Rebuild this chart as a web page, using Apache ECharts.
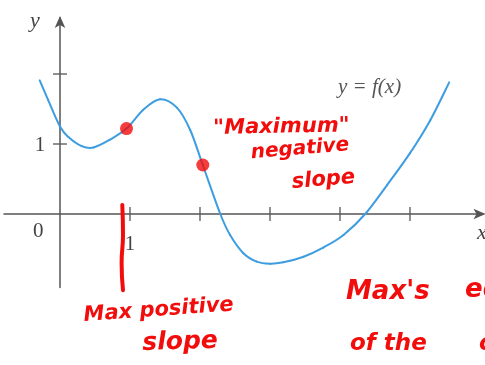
<!DOCTYPE html>
<html>
<head>
<meta charset="utf-8">
<script src="https://cdn.jsdelivr.net/npm/echarts@6/dist/echarts.min.js"></script>
<style>
  html, body { margin: 0; padding: 0; background: #fff; }
  #chart { width: 485px; height: 365px; }
</style>
</head>
<body>
<div id="chart"></div>
<script>
// y = f(x): points along the curve
const curveX = [-0.29, -0.17, 0, 0.12, 0.31, 0.48, 0.71, 0.95, 1.19, 1.43, 1.67, 1.86, 2.04, 2.29, 2.43, 2.62, 2.81, 3.0, 3.19, 3.48, 3.76, 4.05, 4.36, 4.67, 5.0, 5.29, 5.56];
const curveY = [1.91, 1.63, 1.25, 1.10, 0.97, 0.95, 1.06, 1.22, 1.49, 1.64, 1.52, 1.2, 0.70, 0.0, -0.30, -0.56, -0.68, -0.71, -0.69, -0.61, -0.48, -0.30, 0.0, 0.41, 0.87, 1.34, 1.88];

// highlighted points (max positive slope, "maximum" negative slope)
const dotX = [0.95, 2.04];
const dotY = [1.22, 0.70];

// hand-drawn marker under x = 1
const markX = [0.89, 0.90, 0.88, 0.90];
const markY = [0.13, -0.30, -0.70, -1.09];

// axis ticks and labels
const xTicks = [1, 2, 3, 4, 5];
const yTicks = [1, 2];
const xLabels = ['1'];
const xLabelAt = [1];
const yLabels = ['1'];
const yLabelAt = [1];

const axisColor = '#555';
const labelColor = '#444';
const serif = '"Liberation Serif", "DejaVu Serif", serif';
const red = '#f20d0d';
const hand = '"DejaVu Sans", sans-serif';

const chart = echarts.init(document.getElementById('chart'));

// cross-shaped ticks straddling the axis line
function tickSeries(values, dir) {
  return {
    type: 'custom',
    silent: true,
    clip: false,
    data: values.map(v => [v]),
    renderItem: function (params, api) {
      const v = api.value(0);
      const p = dir === 'x' ? api.coord([v, 0]) : api.coord([0, v]);
      const h = 7;
      const shape = dir === 'x'
        ? { x1: p[0], y1: p[1] - h, x2: p[0], y2: p[1] + h }
        : { x1: p[0] - h, y1: p[1], x2: p[0] + h, y2: p[1] };
      return { type: 'line', shape: shape, style: { stroke: axisColor, lineWidth: 1.3 } };
    }
  };
}

// tick labels placed relative to the axis line
function labelSeries(at, texts, dir) {
  return {
    type: 'custom',
    silent: true,
    clip: false,
    data: at.map((v, i) => [v, i]),
    renderItem: function (params, api) {
      const v = api.value(0);
      const t = texts[api.value(1)];
      const p = dir === 'x' ? api.coord([v, 0]) : api.coord([0, v]);
      return {
        type: 'text',
        x: dir === 'x' ? p[0] : p[0] - 20,
        y: dir === 'x' ? p[1] + 30 : p[1] + 1,
        style: { text: t, fill: labelColor, font: '21px ' + serif, align: 'center', verticalAlign: 'middle' }
      };
    }
  };
}

// smooth curve through the data points (Catmull-Rom spline in pixel space)
function curveSeries(xs, ys, color, width) {
  return {
    type: 'custom',
    silent: true,
    clip: false,
    data: [[xs[0], ys[0]]],
    z: 3,
    renderItem: function (params, api) {
      const pts = xs.map((x, i) => api.coord([x, ys[i]]));
      const n = pts.length;
      const children = [];
      for (let i = 0; i < n - 1; i++) {
        const p0 = pts[Math.max(i - 1, 0)];
        const p1 = pts[i];
        const p2 = pts[i + 1];
        const p3 = pts[Math.min(i + 2, n - 1)];
        children.push({
          type: 'bezierCurve',
          shape: {
            x1: p1[0], y1: p1[1], x2: p2[0], y2: p2[1],
            cpx1: p1[0] + (p2[0] - p0[0]) / 6, cpy1: p1[1] + (p2[1] - p0[1]) / 6,
            cpx2: p2[0] - (p3[0] - p1[0]) / 6, cpy2: p2[1] - (p3[1] - p1[1]) / 6
          },
          style: { stroke: color, lineWidth: width, fill: null, lineCap: 'round' }
        });
      }
      return { type: 'group', children: children };
    }
  };
}

chart.setOption({
  animation: false,
  backgroundColor: '#fff',
  grid: { left: 4, right: 1.5, top: 18, bottom: 77.5, containLabel: false, outerBoundsMode: 'none' },
  xAxis: {
    type: 'value', min: -0.8, max: 6.05,
    axisLine: { onZero: true, symbol: ['none', 'arrow'], symbolSize: [8, 12], symbolOffset: [0, 2],
      lineStyle: { color: axisColor, width: 1.5 } },
    axisTick: { show: false },
    splitLine: { show: false },
    axisLabel: { show: false }
  },
  yAxis: {
    type: 'value', min: -1.05, max: 2.8,
    axisLine: { onZero: true, symbol: ['none', 'arrow'], symbolSize: [8, 12], symbolOffset: [0, 2],
      lineStyle: { color: axisColor, width: 1.5 } },
    axisTick: { show: false },
    splitLine: { show: false },
    axisLabel: { show: false }
  },
  series: [
    tickSeries(xTicks, 'x'),
    tickSeries(yTicks, 'y'),
    labelSeries(xLabelAt, xLabels, 'x'),
    labelSeries(yLabelAt, yLabels, 'y'),
    curveSeries(curveX, curveY, '#3d9de0', 2),
    {
      type: 'line',
      data: markX.map((x, i) => [x, markY[i]]),
      smooth: true,
      showSymbol: false,
      clip: false,
      lineStyle: { color: red, width: 4, cap: 'round' },
      z: 4
    },
    {
      type: 'scatter',
      data: dotX.map((x, i) => [x, dotY[i]]),
      symbolSize: 13,
      itemStyle: { color: red },
      z: 5
    }
  ],
  graphic: [
    { type: 'text', left: 30, top: 10, style: { text: 'y', fill: labelColor, font: 'italic 22px ' + serif } },
    { type: 'text', left: 477, top: 222, style: { text: 'x', fill: labelColor, font: 'italic 22px ' + serif } },
    { type: 'text', left: 33, top: 221, style: { text: '0', fill: labelColor, font: '21px ' + serif } },
    { type: 'text', left: 338, top: 77, style: { text: 'y = f(x)', fill: '#555', font: 'italic 21px ' + serif } },

    { type: 'text', x: 213, y: 118, rotation: 0.02, style: { text: '"Maximum"', fill: red, font: 'italic bold 21px ' + hand } },
    { type: 'text', x: 250, y: 143, rotation: 0.08, style: { text: 'negative', fill: red, font: 'italic bold 20px ' + hand } },
    { type: 'text', x: 291, y: 172, rotation: 0.08, style: { text: 'slope', fill: red, font: 'italic bold 21px ' + hand } },

    { type: 'text', x: 83, y: 305, rotation: 0.07, style: { text: 'Max positive', fill: red, font: 'italic bold 21px ' + hand } },
    { type: 'text', x: 142, y: 331, rotation: 0.03, style: { text: 'slope', fill: red, font: 'italic bold 25px ' + hand } },

    { type: 'text', x: 346, y: 279, style: { text: "Max's", fill: red, font: 'italic bold 26px ' + hand } },
    { type: 'text', x: 465, y: 277, style: { text: 'ed', fill: red, font: 'italic bold 26px ' + hand } },
    { type: 'text', x: 350, y: 333, style: { text: 'of the', fill: red, font: 'italic bold 23px ' + hand } },
    { type: 'text', x: 479, y: 333, style: { text: 'c', fill: red, font: 'italic bold 23px ' + hand } }
  ]
});
</script>
</body>
</html>
